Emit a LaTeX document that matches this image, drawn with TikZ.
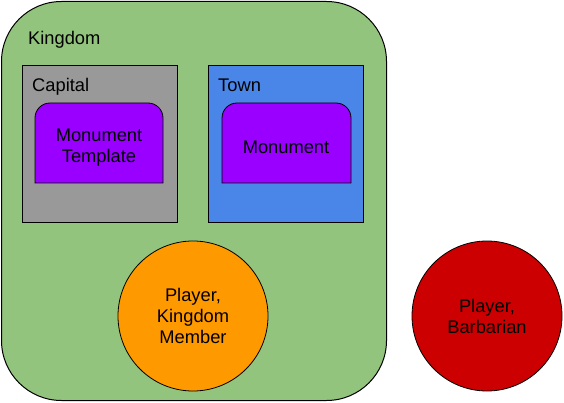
\documentclass[tikz,border=0pt]{standalone}
\usepackage{fontspec}
\setmainfont{Liberation Sans}
\definecolor{kgreen}{HTML}{93C47D}
\definecolor{kgray}{HTML}{999999}
\definecolor{kblue}{HTML}{4A86E8}
\definecolor{kpurple}{HTML}{9900FF}
\definecolor{korange}{HTML}{FF9900}
\definecolor{kred}{HTML}{CC0000}
\begin{document}
\begin{tikzpicture}[x=1pt,y=1pt,
  every node/.style={font=\fontsize{18.3}{21}\selectfont, inner sep=0pt},
  area/.style={draw=black, line width=1pt, rectangle, anchor=north west},
  lbl/.style={anchor=base west},
  player/.style={draw=black, line width=0.8pt, circle, minimum size=150pt, align=center}]
\useasboundingbox (0,0) rectangle (564,402);
% Kingdom
\node[area, fill=kgreen, rounded corners=60pt, minimum width=385pt, minimum height=399pt] (kingdom) at (1,401) {};
\node[lbl] (kingdomlbl) at (28,357) {Kingdom};
% Capital
\node[area, fill=kgray, minimum width=155pt, minimum height=157pt] (capital) at (22,337) {};
\node[lbl] (capitallbl) at (32,310) {Capital};
% Town
\node[area, fill=kblue, minimum width=155pt, minimum height=157pt] (town) at (208,337) {};
\node[lbl] (townlbl) at (218,310) {Town};
% Monument template shape
\draw[fill=kpurple, line width=0.8pt] (35,219) -- (35,284) arc (180:90:15) -- (148,299) arc (90:0:15) -- (163,219) -- cycle;
\node[align=center] (mt) at (99,254) {Monument\\Template};
\draw[fill=kpurple, line width=0.8pt] (222,219) -- (222,284) arc (180:90:15) -- (336,299) arc (90:0:15) -- (351,219) -- cycle;
\node (mon) at (286,255) {Monument};
% Players
\node[player, fill=korange] (member) at (193,86) {Player,\\Kingdom\\Member};
\node[player, fill=kred] (barbarian) at (487,86) {Player,\\Barbarian};
\end{tikzpicture}
\end{document}
